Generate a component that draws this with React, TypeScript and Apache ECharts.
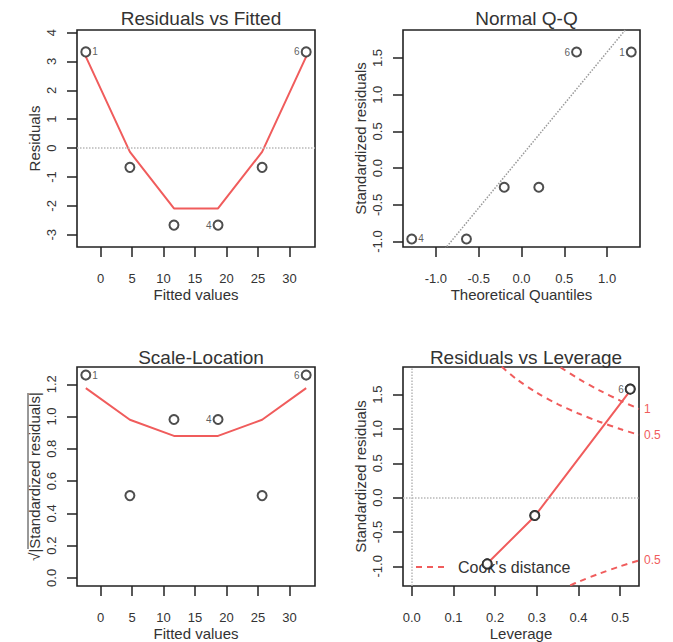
import React, { useEffect, useRef } from "react";
import * as echarts from "echarts";

// ---- data ----
const fitted = [-2.333, 4.667, 11.667, 18.667, 25.667, 32.667];
const residuals = [3.333, -0.667, -2.667, -2.667, -0.667, 3.333];
const residSmooth = [3.17, -0.13, -2.09, -2.09, -0.13, 3.17];
const stdResiduals = [1.581, -0.26, -0.965, -0.965, -0.26, 1.581];
const sqrtAbsStd = [1.257, 0.51, 0.982, 0.982, 0.51, 1.257];
const scaleSmooth = [1.176, 0.98, 0.88, 0.88, 0.98, 1.176];
const leverage = [0.524, 0.295, 0.181, 0.181, 0.295, 0.524];
const levSmoothX = [0.181, 0.295, 0.524];
const levSmoothY = [-0.96, -0.27, 1.56];
const theoQuantiles = [-1.282, -0.643, -0.202, 0.202, 0.643, 1.282];
const sortedStd = [-0.965, -0.965, -0.26, -0.26, 1.581, 1.581];
const qqPointLabels = ["4", "", "", "", "6", "1"];
const obsPointLabels = ["1", "", "", "4", "", "6"];
const levPointLabels = ["", "", "", "", "", "6"];
const qqIntercept = 0.166;
const qqSlope = 1.416;
// Cook's distance contours (leverage, std. residual)
const cook05UpperX = [0.216, 0.25, 0.3, 0.35, 0.4, 0.45, 0.5, 0.545];
const cook05UpperY = [1.905, 1.732, 1.528, 1.363, 1.225, 1.106, 1.0, 0.914];
const cook1UpperX = [0.357, 0.4, 0.45, 0.5, 0.545];
const cook1UpperY = [1.898, 1.732, 1.563, 1.414, 1.292];
const cook05LowerX = [0.38, 0.4, 0.45, 0.5, 0.545];
const cook05LowerY = [-1.277, -1.225, -1.106, -1.0, -0.914];

// tick labels
const xTicksFitted = [0, 5, 10, 15, 20, 25, 30];
const yTicksResid = [-3, -2, -1, 0, 1, 2, 3, 4];
const xTicksQQ = [-1.0, -0.5, 0.0, 0.5, 1.0];
const yTicksStd = [-1.0, -0.5, 0.0, 0.5, 1.0, 1.5];
const yTicksScale = [0.0, 0.2, 0.4, 0.6, 0.8, 1.0, 1.2];
const xTicksLev = [0.0, 0.1, 0.2, 0.3, 0.4, 0.5];

const titles = ["Residuals vs Fitted", "Normal Q-Q", "Scale-Location", "Residuals vs Leverage"];

const FONT = "'Liberation Sans', Arial, Helvetica, sans-serif";
const TXT = "#333";
const RED = "#f05c5c";
const DOT = "#b8b8b8";

const grids = [
  { left: 77, top: 30, width: 238, height: 217 },
  { left: 403, top: 30, width: 237, height: 217 },
  { left: 77, top: 367, width: 238, height: 219 },
  { left: 403, top: 367, width: 236, height: 219 },
];

function axis(
  kind: "x" | "y",
  gridIndex: number,
  min: number,
  max: number,
  ticks: number[],
  decimals: number,
  name: string,
  nameGap: number
) {
  const base: any = {
    type: "value",
    gridIndex,
    min,
    max,
    position: kind === "x" ? "bottom" : "left",
    name,
    nameLocation: "middle",
    nameGap,
    nameTextStyle: { fontFamily: FONT, fontSize: 15, color: TXT },
    axisLine: { show: false, onZero: false },
    splitLine: { show: false },
    axisTick: {
      show: true,
      inside: false,
      length: 10,
      customValues: ticks,
      lineStyle: { color: "#222", width: 1.5 },
    },
    axisLabel: {
      customValues: ticks,
      fontFamily: FONT,
      fontSize: 13,
      color: TXT,
      margin: kind === "x" ? 25 : 19,
      formatter: (v: number) => v.toFixed(decimals),
    },
  };
  if (kind === "y") {
    base.axisLabel.rotate = 90;
    base.nameRotate = 90;
  }
  return base;
}

function pointData(xs: number[], ys: number[], labels: string[]) {
  const mid = (Math.min(...xs) + Math.max(...xs)) / 2;
  return xs.map((x, i) => {
    const item: any = { value: [x, ys[i]] };
    if (labels[i]) {
      item.label = {
        show: true,
        formatter: labels[i],
        position: x < mid ? "right" : "left",
        distance: 1,
        fontFamily: FONT,
        fontSize: 10,
        color: TXT,
      };
    }
    return item;
  });
}

function scatter(xi: number, data: any[]) {
  return {
    type: "scatter",
    xAxisIndex: xi,
    yAxisIndex: xi,
    symbol: "emptyCircle",
    symbolSize: 9,
    itemStyle: { color: "#222", borderWidth: 1.8 },
    data,
    z: 5,
  };
}

function zip(xs: number[], ys: number[]) {
  return xs.map((x, i) => [x, ys[i]]);
}

const zeroLine = (axisKey: "yAxis" | "xAxis") => ({ [axisKey]: 0 });

export default function App() {
  const ref = useRef<HTMLDivElement>(null);
  useEffect(() => {
    if (!ref.current) return;
    const chart = echarts.init(ref.current, null, { renderer: "svg" });

    const qqXMin = -1.384;
    const qqXMax = 1.384;

    const dottedMark = (keys: ("yAxis" | "xAxis")[]) => ({
      silent: true,
      symbol: "none",
      label: { show: false },
      lineStyle: { type: "dotted", color: DOT, width: 1.5 },
      data: keys.map(zeroLine),
    });

    const option: any = {
      animation: false,
      backgroundColor: "#fff",
      textStyle: { fontFamily: FONT },
      title: titles.map((t, i) => ({
        text: t,
        left: grids[i].left + grids[i].width / 2,
        top: i < 2 ? 4 : 343,
        textAlign: "center",
        textStyle: { fontFamily: FONT, fontSize: 19, fontWeight: "normal", color: TXT },
      })),
      grid: grids.map((g) => ({
        ...g,
        show: true,
        borderColor: "#222",
        borderWidth: 1.6,
        backgroundColor: "transparent",
        containLabel: false,
      })),
      xAxis: [
        axis("x", 0, -3.733, 34.067, xTicksFitted, 0, "Fitted values", 40),
        axis("x", 1, -1.384, 1.384, xTicksQQ, 1, "Theoretical Quantiles", 40),
        axis("x", 2, -3.733, 34.067, xTicksFitted, 0, "Fitted values", 40),
        axis("x", 3, -0.021, 0.545, xTicksLev, 1, "Leverage", 40),
      ],
      yAxis: [
        axis("y", 0, -3.425, 4.091, yTicksResid, 0, "Residuals", 35),
        axis("y", 1, -1.074, 1.881, yTicksStd, 1, "Standardized residuals", 35),
        axis("y", 2, -0.05, 1.307, yTicksScale, 1, "√|Standardized residuals|", 35),
        axis("y", 3, -1.287, 1.903, yTicksStd, 1, "Standardized residuals", 35),
      ],
      series: [
        // Panel 1: Residuals vs Fitted
        {
          type: "line",
          xAxisIndex: 0,
          yAxisIndex: 0,
          data: zip(fitted, residSmooth),
          showSymbol: false,
          lineStyle: { color: RED, width: 2 },
          markLine: dottedMark(["yAxis"]),
        },
        scatter(0, pointData(fitted, residuals, obsPointLabels)),
        // Panel 2: Normal Q-Q
        {
          type: "line",
          xAxisIndex: 1,
          yAxisIndex: 1,
          data: [
            [qqXMin, qqIntercept + qqSlope * qqXMin],
            [qqXMax, qqIntercept + qqSlope * qqXMax],
          ],
          showSymbol: false,
          clip: true,
          lineStyle: { color: "#999", width: 1.5, type: "dotted" },
        },
        scatter(1, pointData(theoQuantiles, sortedStd, qqPointLabels)),
        // Panel 3: Scale-Location
        {
          type: "line",
          xAxisIndex: 2,
          yAxisIndex: 2,
          data: zip(fitted, scaleSmooth),
          showSymbol: false,
          lineStyle: { color: RED, width: 2 },
        },
        scatter(2, pointData(fitted, sqrtAbsStd, obsPointLabels)),
        // Panel 4: Residuals vs Leverage
        {
          type: "line",
          xAxisIndex: 3,
          yAxisIndex: 3,
          data: zip(levSmoothX, levSmoothY),
          showSymbol: false,
          lineStyle: { color: RED, width: 2 },
          markLine: dottedMark(["yAxis", "xAxis"]),
        },
        scatter(3, pointData(leverage, stdResiduals, levPointLabels)),
        ...[
          { xs: cook05UpperX, ys: cook05UpperY, lab: "0.5" },
          { xs: cook1UpperX, ys: cook1UpperY, lab: "1" },
          { xs: cook05LowerX, ys: cook05LowerY, lab: "0.5" },
        ].map((c) => ({
          type: "line",
          xAxisIndex: 3,
          yAxisIndex: 3,
          data: zip(c.xs, c.ys),
          smooth: 0.3,
          showSymbol: false,
          clip: true,
          lineStyle: { color: RED, width: 2, type: [6, 5] },
          endLabel: {
            show: true,
            formatter: c.lab,
            color: RED,
            fontFamily: FONT,
            fontSize: 12,
            distance: 5,
          },
        })),
      ],
      graphic: [
        // overline of the square-root sign in the Scale-Location axis title
        {
          type: "line",
          shape: { x1: 28, y1: 393, x2: 28, y2: 549 },
          style: { stroke: TXT, lineWidth: 1 },
        },
        {
          type: "line",
          shape: { x1: 416, y1: 567, x2: 447, y2: 567 },
          style: { stroke: RED, lineWidth: 2, lineDash: [6, 5] },
        },
        {
          type: "text",
          x: 458,
          y: 567,
          style: {
            text: "Cook's distance",
            fontFamily: FONT,
            fontSize: 16,
            fill: TXT,
            verticalAlign: "middle",
          },
        },
      ],
    };
    chart.setOption(option);
    return () => chart.dispose();
  }, []);
  return (
    <div
      ref={ref}
      style={{ position: "fixed", left: 0, top: 0, width: 673, height: 642, background: "#fff" }}
    />
  );
}
